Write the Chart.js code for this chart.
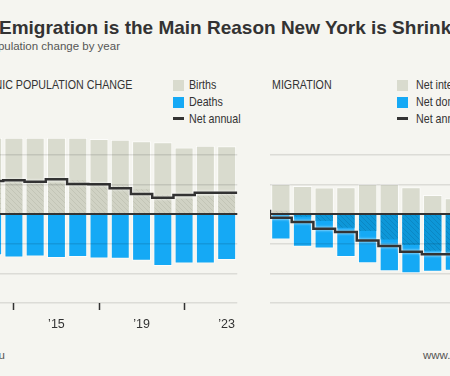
<!DOCTYPE html>
<html>
<head>
<meta charset="utf-8">
<script src="https://cdn.jsdelivr.net/npm/chart.js@4"></script>
<style>
  html, body { margin: 0; padding: 0; }
  body {
    width: 450px; height: 376px; overflow: hidden; position: relative;
    background: #f5f5f0; color: #333;
    font-family: "Liberation Sans", Arial, sans-serif;
  }
  .abs { position: absolute; white-space: nowrap; }
  #title { left: -1px; top: 18px; font: bold 19px/19px "Liberation Sans", Arial, sans-serif; color: #333; }
  #subtitle { right: 330px; top: 41px; font: 11.5px/11.5px "Liberation Sans", Arial, sans-serif; color: #555; }
  /* narrow look: regular face squeezed horizontally */
  .nar { font-size: 13px; line-height: 13px; color: #333; transform: scaleX(0.82); transform-origin: left top; }
  .nar.r { transform-origin: right top; }
  .sw { position: absolute; width: 11px; height: 11px; }
  .ln { position: absolute; width: 11px; height: 3px; background: #333; }
  .foot { font: 11.5px/11.5px "Liberation Sans", Arial, sans-serif; color: #555; top: 350px; }
  canvas { position: absolute; }
</style>
</head>
<body>
<div id="title" class="abs">Emigration is the Main Reason New York is Shrinking</div>
<div id="subtitle" class="abs">Population change by year</div>

<div class="abs nar r" style="right:318px; top:78px;">ORGANIC POPULATION CHANGE</div>
<div class="sw" style="left:173px; top:80px; background:#d9dbce;"></div>
<div class="abs nar" style="left:189px; top:78px;">Births</div>
<div class="sw" style="left:173px; top:97px; background:#15a9f5;"></div>
<div class="abs nar" style="left:189px; top:95px;">Deaths</div>
<div class="ln" style="left:173px; top:117px;"></div>
<div class="abs nar" style="left:189px; top:112px;">Net annual</div>

<div class="abs nar" style="left:272px; top:78px;">MIGRATION</div>
<div class="sw" style="left:397px; top:80px; background:#d9dbce;"></div>
<div class="abs nar" style="left:416px; top:78px;">Net international</div>
<div class="sw" style="left:397px; top:97px; background:#15a9f5;"></div>
<div class="abs nar" style="left:416px; top:95px;">Net domestic</div>
<div class="ln" style="left:397px; top:117px;"></div>
<div class="abs nar" style="left:416px; top:112px;">Net annual</div>

<canvas id="natural" width="260" height="208" style="left:-18px; top:125px;"></canvas>
<canvas id="migration" width="282" height="208" style="left:270px; top:125px;"></canvas>

<div class="abs foot" style="right:445px;">Source: U.S. Census Bureau</div>
<div class="abs foot" style="left:423px;">www.census.gov</div>

<script>
// natural change (thousands of people)
const years = [2012, 2013, 2014, 2015, 2016, 2017, 2018, 2019, 2020, 2021, 2022, 2023];
const births = [257, 257, 257, 257, 257, 253, 250, 245, 242, 224, 230, 228];
const deaths = [-139, -147, -143, -148, -145, -150, -151, -158, -175, -167, -167, -155];
const netNatural = [120, 111, 114, 109, 117, 101, 100, 87, 67, 55, 64, 72];

// migration
const migYears = [2011, 2012, 2013, 2014, 2015, 2016, 2017, 2018, 2019];
const international = [101, 94, 89, 90, 101, 101, 90, 64, 53];
const domestic = [-86, -110, -116, -145, -166, -193, -200, -195, -191];
const netMigration = [14, -13, -27, -50, -61, -89, -108, -127, -136];

const tickYears = [2015, 2019, 2023];

const GRAY = "#d9dbce";
const BLUE = "#15a9f5";
const DARK = "#333";
const FONT = "'Liberation Sans', Arial, sans-serif";

function hatch(base, stripe) {
  const c = document.createElement("canvas");
  c.width = 5; c.height = 5;
  const g = c.getContext("2d");
  g.fillStyle = base;
  g.fillRect(0, 0, 5, 5);
  g.strokeStyle = stripe;
  g.lineWidth = 1;
  g.beginPath();
  for (const k of [-5, 0, 5]) { g.moveTo(k, 0); g.lineTo(k + 5, 5); }
  g.stroke();
  return g.createPattern(c, "repeat");
}
const grayHatch = hatch("#d0d2c4", "#c3c5b6");
const blueHatch = hatch("#0d97d8", "#0b87c4");

const pts = (xs, ys) => ys.map((v, i) => ({ x: xs[i], y: v }));
const steps = (xs, ys) => {
  const p = ys.map((v, i) => ({ x: xs[i] - 0.5, y: v }));
  p.push({ x: xs[xs.length - 1] + 0.5, y: ys[ys.length - 1] });
  return p;
};

const halo = {
  id: "halo",
  beforeDatasetDraw(chart, args) {
    if (args.meta.type === "line") {
      chart.ctx.save();
      chart.ctx.shadowColor = "rgba(255,255,255,0.9)";
      chart.ctx.shadowBlur = 3;
    }
  },
  afterDatasetDraw(chart, args) {
    if (args.meta.type === "line") chart.ctx.restore();
  },
};

function makeChart(id, xs, pos, neg, net, xmin, xmax, showTicks) {
  const barBase = {
    type: "bar", grouped: false, barPercentage: 0.89, categoryPercentage: 1,
    borderWidth: 1, borderColor: "rgba(255,255,255,0.65)", order: 2,
  };
  return new Chart(document.getElementById(id).getContext("2d"), {
    data: {
      datasets: [
        { ...barBase, data: pts(xs, pos), backgroundColor: GRAY },
        { ...barBase, data: pts(xs, neg), backgroundColor: BLUE },
        { ...barBase, data: pts(xs, net), order: 1, borderColor: "rgba(255,255,255,0)",
          backgroundColor: c => (c.raw && c.raw.y < 0 ? blueHatch : grayHatch) },
        { type: "line", data: steps(xs, net), stepped: "after", borderColor: DARK,
          borderWidth: 2.5, pointRadius: 0, order: 0 },
      ],
    },
    options: {
      responsive: false,
      animation: false,
      layout: { padding: 0 },
      plugins: { legend: { display: false }, tooltip: { enabled: false } },
      scales: {
        x: {
          type: "linear", min: xmin, max: xmax, offset: false,
          afterBuildTicks: axis => { axis.ticks = tickYears.map(v => ({ value: v })); },
          afterFit: axis => { axis.height = 30; },
          grid: { drawOnChartArea: false, drawTicks: showTicks, tickLength: 7, tickColor: DARK, tickWidth: 1.5 },
          border: { display: false },
          ticks: {
            display: showTicks, padding: 7, color: DARK, maxRotation: 0, autoSkip: false,
            font: { family: FONT, size: 12.5 },
            callback: v => "\u2019" + String(v).slice(2),
          },
        },
        y: {
          min: -300, max: 300,
          ticks: { display: false, stepSize: 100 },
          border: { display: false },
          grid: {
            z: 1, drawTicks: false,
            color: c => (c.tick.value === 0 ? DARK : c.tick.value >= 300 ? "rgba(0,0,0,0)" : "rgba(0,0,0,0.1)"),
            lineWidth: c => (c.tick.value === 0 ? 2 : 1.5),
          },
        },
      },
    },
    plugins: [halo],
  });
}

makeChart("natural", years, births, deaths, netNatural, 2011.5, 2023.5, true);
makeChart("migration", migYears, international, domestic, netMigration, 2010.5, 2023.5, false);
</script>
</body>
</html>
